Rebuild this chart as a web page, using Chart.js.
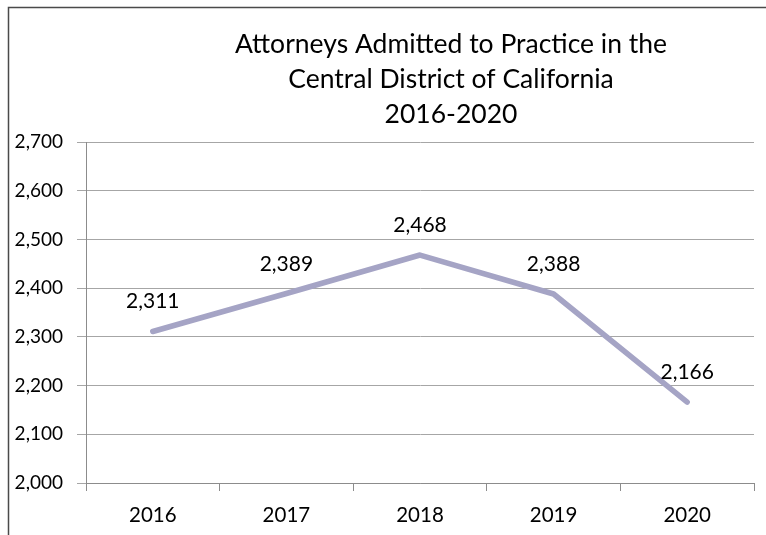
<!DOCTYPE html>
<html>
<head>
<meta charset="utf-8">
<script src="https://cdn.jsdelivr.net/npm/chart.js@4.4.1/dist/chart.umd.min.js"></script>
<style>
  html, body { margin: 0; padding: 0; background: #ffffff; overflow: hidden; }
  #wrap { position: relative; width: 766px; height: 535px; }
</style>
</head>
<body>
<div id="wrap"><canvas id="c" width="766" height="535"></canvas></div>
<script>
// ---- data ----
const titleLines = ["Attorneys Admitted to Practice in the", "Central District of California", "2016-2020"];
const categories = ["2016", "2017", "2018", "2019", "2020"];
const attorneys = [2311, 2389, 2468, 2388, 2166];
const yMin = 2000;
const yMax = 2700;
const yStep = 100;

const FONT = "Lato, 'Open Sans', sans-serif";
const lineColor = "#A5A4C5";

const fmt = v => v.toLocaleString("en-US");

const frameAndTitle = {
  id: "frameAndTitle",
  beforeDraw(chart) {
    const ctx = chart.ctx;
    ctx.save();
    ctx.fillStyle = "#ffffff";
    ctx.fillRect(0, 0, chart.width, chart.height);
    ctx.strokeStyle = "#4a4a4a";
    ctx.lineWidth = 1.5;
    ctx.beginPath();
    ctx.moveTo(8.5, chart.height);
    ctx.lineTo(8.5, 7.5);
    ctx.lineTo(chart.width, 7.5);
    ctx.stroke();
    ctx.fillStyle = "#000000";
    ctx.font = "26.5px " + FONT;
    ctx.textAlign = "center";
    ctx.textBaseline = "alphabetic";
    const cx = 451;
    const baselines = [53, 88, 123];
    titleLines.forEach((t, i) => ctx.fillText(t, cx, baselines[i]));
    ctx.restore();
  }
};

const dataLabels = {
  id: "dataLabels",
  afterDatasetsDraw(chart) {
    const ctx = chart.ctx;
    const meta = chart.getDatasetMeta(0);
    const ds = chart.data.datasets[0];
    ctx.save();
    ctx.fillStyle = "#000000";
    ctx.font = "21px " + FONT;
    ctx.textAlign = "center";
    ctx.textBaseline = "alphabetic";
    meta.data.forEach((pt, i) => {
      ctx.fillText(fmt(ds.data[i]), pt.x, pt.y - 23);
    });
    ctx.restore();
  }
};

new Chart(document.getElementById("c"), {
  type: "line",
  data: {
    labels: categories,
    datasets: [{
      label: "Attorneys",
      data: attorneys,
      borderColor: lineColor,
      borderWidth: 5.5,
      borderCapStyle: "round",
      borderJoinStyle: "round",
      pointRadius: 0,
      pointHoverRadius: 0,
      tension: 0,
      fill: false
    }]
  },
  options: {
    responsive: false,
    animation: false,
    devicePixelRatio: 1,
    layout: { padding: { top: 142, right: 12, left: 0, bottom: 0 } },
    plugins: {
      legend: { display: false },
      title: { display: false },
      tooltip: { enabled: false }
    },
    scales: {
      x: {
        offset: true,
        grid: {
          offset: true,
          drawOnChartArea: false,
          drawTicks: true,
          tickLength: 8,
          color: "#8C8C8C",
          lineWidth: 1
        },
        border: { display: true, color: "#8C8C8C", width: 1 },
        ticks: {
          color: "#000000",
          font: { family: FONT, size: 20.5 },
          padding: 12,
          maxRotation: 0,
          autoSkip: false
        },
        afterFit(s) { s.height = 52; }
      },
      y: {
        min: yMin,
        max: yMax,
        ticks: {
          stepSize: yStep,
          color: "#000000",
          font: { family: FONT, size: 19 },
          padding: 14,
          callback: v => fmt(v)
        },
        grid: {
          color: "#A6A6A6",
          lineWidth: 1,
          drawTicks: true,
          tickLength: 9
        },
        border: { display: true, color: "#8C8C8C", width: 1 },
        afterFit(s) { s.width = 86; }
      }
    }
  },
  plugins: [frameAndTitle, dataLabels]
});
</script>
</body>
</html>
